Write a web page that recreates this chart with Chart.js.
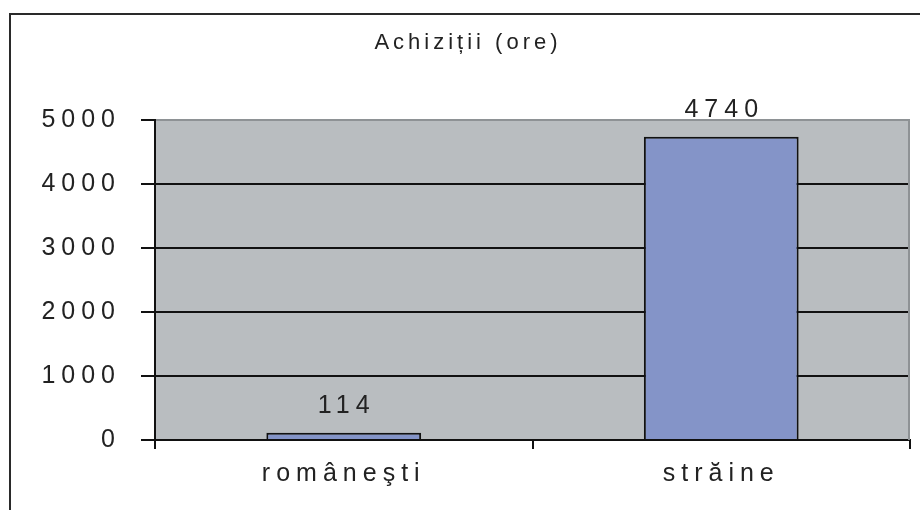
<!DOCTYPE html>
<html>
<head>
<meta charset="utf-8">
<script src="https://cdn.jsdelivr.net/npm/chart.js@4/dist/chart.umd.min.js"></script>
<style>
  html, body { margin: 0; padding: 0; background: #ffffff; }
  #wrap { width: 920px; height: 510px; position: relative; }
</style>
</head>
<body>
<div id="wrap"><canvas id="c" width="920" height="510"></canvas></div>
<script>
const categories = ['româneşti', 'străine'];
const hours = [114, 4740];
const yTicks = [0, 1000, 2000, 3000, 4000, 5000];
const chartTitle = 'Achiziții (ore)';

const FONT = '"Liberation Sans Narrow", "Arial Narrow", "Liberation Sans", Arial, sans-serif';
const SPACING = 6;
const TITLE_SPACING = 4;

const spacingPlugin = {
  id: 'spacing',
  beforeUpdate(chart) { chart.ctx.letterSpacing = SPACING + 'px'; },
  beforeDraw(chart) {
    const ctx = chart.ctx;
    ctx.letterSpacing = SPACING + 'px';
    const a = chart.chartArea;
    ctx.save();
    ctx.fillStyle = '#b9bdc0';
    ctx.fillRect(a.left, a.top, a.right - a.left, a.bottom - a.top);
    ctx.restore();
    if (chart.titleBlock && !chart.titleBlock._wrapped) {
      const tb = chart.titleBlock;
      const orig = tb.draw.bind(tb);
      tb.draw = function () {
        const c = chart.ctx;
        const prev = c.letterSpacing;
        c.letterSpacing = TITLE_SPACING + 'px';
        orig();
        c.letterSpacing = prev;
      };
      tb._wrapped = true;
    }
  },
  beforeDatasetsDraw(chart) {
    const ctx = chart.ctx;
    const a = chart.chartArea;
    ctx.save();
    ctx.strokeStyle = '#8e9295';
    ctx.lineWidth = 2;
    ctx.beginPath();
    ctx.moveTo(a.right - 1, a.top);
    ctx.lineTo(a.right - 1, a.bottom);
    ctx.stroke();
    ctx.restore();
  },
  afterDatasetsDraw(chart) {
    const ctx = chart.ctx;
    const meta = chart.getDatasetMeta(0);
    ctx.save();
    ctx.letterSpacing = SPACING + 'px';
    ctx.font = '25px ' + FONT;
    ctx.fillStyle = '#222';
    ctx.textAlign = 'center';
    ctx.textBaseline = 'alphabetic';
    meta.data.forEach((el, i) => {
      ctx.fillText(String(chart.data.datasets[0].data[i]), el.x + SPACING / 2, el.y - 20);
    });
    ctx.restore();
  },
  afterDraw(chart) {
    const ctx = chart.ctx;
    ctx.save();
    ctx.strokeStyle = '#2a2a2a';
    ctx.lineWidth = 2;
    ctx.beginPath();
    ctx.moveTo(10, 510);
    ctx.lineTo(10, 14);
    ctx.lineTo(920, 14);
    ctx.stroke();
    ctx.restore();
  }
};

new Chart(document.getElementById('c'), {
  type: 'bar',
  data: {
    labels: categories,
    datasets: [{
      data: hours,
      backgroundColor: '#8494c8',
      borderColor: '#111',
      borderWidth: 2,
      borderSkipped: 'bottom',
      categoryPercentage: 1,
      barPercentage: 0.41
    }]
  },
  plugins: [spacingPlugin],
  options: {
    responsive: false,
    animation: false,
    devicePixelRatio: 1,
    layout: { padding: { left: 26, right: 10, top: 14, bottom: 0 } },
    plugins: {
      legend: { display: false },
      tooltip: { enabled: false },
      title: {
        display: true,
        text: chartTitle,
        color: '#222',
        font: { family: FONT, size: 22, weight: 'normal' },
        padding: { top: 16, bottom: 63.6 }
      }
    },
    scales: {
      x: {
        type: 'category',
        offset: true,
        afterFit(s) { s.height = 70; },
        grid: {
          offset: true,
          drawOnChartArea: false,
          color: '#111',
          tickColor: '#111',
          tickLength: 9,
          lineWidth: 2
        },
        border: { display: true, color: '#111', width: 2 },
        ticks: {
          color: '#222',
          padding: 10,
          font: { family: FONT, size: 25 }
        }
      },
      y: {
        min: 0,
        max: 5000,
        afterFit(s) { s.width = 129; },
        afterBuildTicks(s) { s.ticks = yTicks.map(v => ({ value: v })); },
        grid: {
          color: (ctx) => (ctx.tick && ctx.tick.value === 5000 ? '#8e9295' : '#111'),
          tickColor: '#111',
          lineWidth: 2,
          tickLength: 14
        },
        border: { display: true, color: '#111', width: 2 },
        ticks: {
          color: '#222',
          padding: 20,
          font: { family: FONT, size: 25 },
          callback: (v) => String(v)
        }
      }
    }
  }
});
</script>
</body>
</html>
